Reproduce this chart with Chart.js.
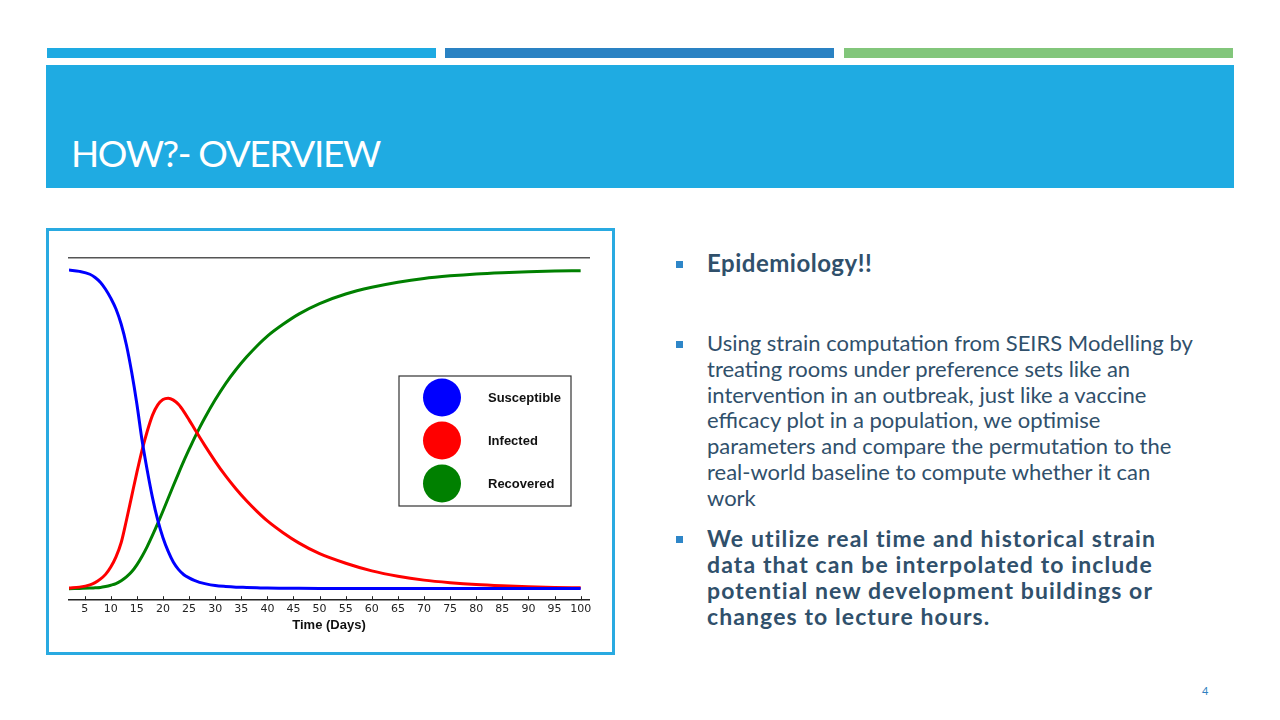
<!DOCTYPE html>
<html>
<head>
<meta charset="utf-8">
<title>How?- Overview</title>
<script src="https://cdn.jsdelivr.net/npm/chart.js@4.4.1/dist/chart.umd.min.js"></script>
<style>
  html, body { margin: 0; padding: 0; background: #fff; }
  body { width: 1280px; height: 720px; position: relative; overflow: hidden; font-family: Lato, "Open Sans", sans-serif; }
  .bar { position: absolute; top: 48px; height: 10px; }
  #header { position: absolute; left: 46px; top: 65px; width: 1188px; height: 123px; background: #1fabe2; }
  #title { position: absolute; left: 71px; top: 134px; color: #fff; font-size: 37px; line-height: 37px; letter-spacing: -1.4px; white-space: nowrap; }
  #frame { position: absolute; left: 46px; top: 228px; width: 563px; height: 421px; border: 3px solid #29aae1; background: #fff; }
  #frame canvas { position: absolute; left: 0; top: 0; }
  .para { position: absolute; left: 707px; color: #30506b; white-space: nowrap; }
  .bullet { position: absolute; left: 676px; width: 7px; height: 7px; background: #2e86c8; }
  #pageNum { position: absolute; left: 1202px; top: 684px; font-size: 11px; color: #2e80c0; }
</style>
</head>
<body>
  <div class="bar" style="left:47px; width:389px; background:#1eaae2;"></div>
  <div class="bar" style="left:445px; width:389px; background:#2a82c3;"></div>
  <div class="bar" style="left:844px; width:389px; background:#82c67b;"></div>
  <div id="header"></div>
  <div id="title">HOW?- OVERVIEW</div>

  <div id="frame"><canvas id="sirChart" width="563" height="421"></canvas></div>

  <div class="bullet" style="top:261px;"></div>
  <div class="para" style="top:250px; font-size:24px; line-height:26px; font-weight:bold; letter-spacing:0.5px;">Epidemiology!!</div>

  <div class="bullet" style="top:341px;"></div>
  <div class="para" style="top:330px; font-size:22px; line-height:25.8px;">
    Using strain computation from SEIRS Modelling by<br>
    treating rooms under preference sets like an<br>
    intervention in an outbreak, just like a vaccine<br>
    efficacy plot in a population, we optimise<br>
    parameters and compare the permutation to the<br>
    real-world baseline to compute whether it can<br>
    work
  </div>

  <div class="bullet" style="top:536px;"></div>
  <div class="para" style="top:525px; font-size:23px; line-height:26.1px; font-weight:bold; letter-spacing:1.1px;">
    We utilize real time and historical strain<br>
    data that can be interpolated to include<br>
    potential new development buildings or<br>
    changes to lecture hours.
  </div>

  <div id="pageNum">4</div>

<script>
// Time in days and population fractions
const days = [2, 4, 6, 7, 8, 9, 10, 11, 12, 13, 14, 15, 16, 17, 18, 19, 20, 21, 22, 23, 24, 25, 26, 27, 28,
  30, 32, 34, 36, 38, 40, 43, 46, 50, 55, 60, 65, 70, 75, 80, 85, 90, 95, 100];
const susceptible = [1.000, 0.996, 0.987, 0.977, 0.962, 0.940, 0.912, 0.878, 0.830, 0.765, 0.680, 0.580,
  0.465, 0.370, 0.285, 0.215, 0.160, 0.117, 0.083, 0.060, 0.044, 0.034, 0.026, 0.020, 0.016, 0.010,
  0.007, 0.005, 0.004, 0.003, 0.002, 0.0015, 0.0012, 0.001, 0.001, 0.001, 0.001, 0.001, 0.001, 0.001,
  0.001, 0.001, 0.001, 0.001];
const infected = [0.002, 0.005, 0.012, 0.019, 0.030, 0.045, 0.068, 0.100, 0.145, 0.215, 0.290, 0.365,
  0.435, 0.495, 0.545, 0.577, 0.594, 0.598, 0.592, 0.578, 0.556, 0.530, 0.503, 0.476, 0.450, 0.400,
  0.354, 0.313, 0.276, 0.243, 0.213, 0.176, 0.144, 0.110, 0.080, 0.056, 0.039, 0.027, 0.019, 0.013,
  0.009, 0.006, 0.004, 0.003];
const recovered = [0.000, 0.001, 0.002, 0.003, 0.004, 0.007, 0.011, 0.016, 0.025, 0.037, 0.053, 0.075,
  0.102, 0.133, 0.168, 0.205, 0.244, 0.284, 0.324, 0.363, 0.401, 0.437, 0.472, 0.505, 0.536, 0.593,
  0.644, 0.688, 0.727, 0.762, 0.793, 0.830, 0.862, 0.895, 0.925, 0.946, 0.962, 0.974, 0.982, 0.988,
  0.992, 0.995, 0.997, 0.998];

const seriesLabels = ["Susceptible", "Infected", "Recovered"];
const seriesColors = ["#0000ff", "#ff0000", "#008000"];
const tickDays = [5, 10, 15, 20, 25, 30, 35, 40, 45, 50, 55, 60, 65, 70, 75, 80, 85, 90, 95, 100];

function toPoints(values) {
  return days.map((d, i) => ({ x: d, y: values[i] }));
}

// Small tick marks pointing up into the plot, like the original
const innerTicks = {
  id: "innerTicks",
  afterDraw(chart) {
    const scale = chart.scales.x;
    const ctx = chart.ctx;
    const bottom = chart.chartArea.bottom;
    ctx.save();
    ctx.strokeStyle = "#222";
    ctx.lineWidth = 1;
    scale.ticks.forEach((t) => {
      const px = Math.round(scale.getPixelForValue(t.value)) + 0.5;
      ctx.beginPath();
      ctx.moveTo(px, bottom);
      ctx.lineTo(px, bottom - 4);
      ctx.stroke();
    });
    ctx.restore();
  },
};

// Boxed legend with big dots inside the plot
const dotLegend = {
  id: "dotLegend",
  afterDraw(chart) {
    const ctx = chart.ctx;
    const area = chart.chartArea;
    const left = area.left + 330;
    const top = area.top + 118;
    ctx.save();
    ctx.fillStyle = "#fff";
    ctx.fillRect(left, top, 172, 130);
    ctx.strokeStyle = "#333";
    ctx.lineWidth = 1.2;
    ctx.strokeRect(left, top, 172, 130);
    ctx.font = "bold 13px 'Liberation Sans', Arial, sans-serif";
    ctx.textBaseline = "middle";
    chart.data.datasets.forEach((ds, i) => {
      const cy = top + 21.5 + i * 43;
      ctx.fillStyle = ds.borderColor;
      ctx.beginPath();
      ctx.arc(left + 43, cy, 19, 0, Math.PI * 2);
      ctx.fill();
      ctx.fillStyle = "#111";
      ctx.fillText(ds.label, left + 89, cy + 1);
    });
    ctx.restore();
  },
};

const datasets = [susceptible, infected, recovered].map((values, i) => ({
  label: seriesLabels[i],
  data: toPoints(values),
  borderColor: seriesColors[i],
  backgroundColor: seriesColors[i],
  borderWidth: 3,
  pointRadius: 0,
  cubicInterpolationMode: "monotone",
  fill: false,
}));

new Chart(document.getElementById("sirChart"), {
  type: "line",
  data: { datasets: datasets },
  options: {
    responsive: false,
    animation: false,
    layout: { padding: { left: 20, right: 23, top: 27, bottom: 19 } },
    plugins: {
      legend: { display: false },
      tooltip: { enabled: false },
    },
    scales: {
      x: {
        type: "linear",
        min: 2,
        max: 101.6,
        afterBuildTicks: (scale) => {
          scale.ticks = tickDays.map((v) => ({ value: v }));
        },
        ticks: {
          autoSkip: false,
          maxRotation: 0,
          padding: 2,
          color: "#222",
          font: { family: "DejaVu Sans", size: 11 },
        },
        grid: { display: false, drawTicks: false },
        border: { display: true, color: "#222", width: 1.5 },
        title: {
          display: true,
          text: "Time (Days)",
          color: "#111",
          font: { family: "Liberation Sans", size: 13, weight: "bold" },
          padding: { top: 0, bottom: 0 },
        },
      },
      xTop: {
        type: "linear",
        axis: "x",
        position: "top",
        ticks: { display: false },
        grid: { display: false, drawTicks: false },
        border: { display: true, color: "#555", width: 1.5 },
      },
      y: {
        display: false,
        min: -0.036,
        max: 1.038,
      },
    },
  },
  plugins: [innerTicks, dotLegend],
});
</script>
</body>
</html>
